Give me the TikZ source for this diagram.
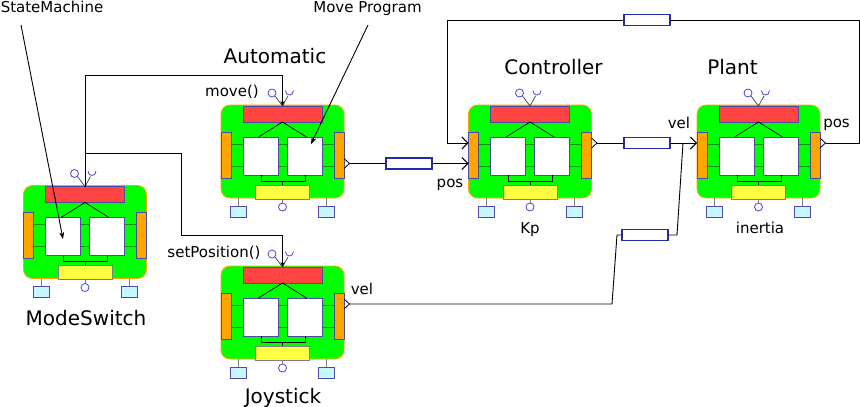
\documentclass[tikz,border=0pt]{standalone}
\usepackage{fontspec}
\setmainfont{DejaVu Sans}
\usetikzlibrary{arrows.meta,positioning}

\definecolor{bodygreen}{HTML}{00FF00}
\definecolor{bodyedge}{HTML}{FFA500}
\definecolor{portorange}{HTML}{FFA500}
\definecolor{partedge}{HTML}{4C4CA6}
\definecolor{barred}{HTML}{FF4444}
\definecolor{baryellow}{HTML}{FFFF44}
\definecolor{paramcyan}{HTML}{C6F6FF}
\definecolor{pinblue}{HTML}{4646C8}
\definecolor{wiregreen}{HTML}{0A8A0A}
\definecolor{resedge}{HTML}{2A2AA0}

\tikzset{
  box/.style={draw=partedge, line width=0.8pt, inner sep=0pt, outer sep=0pt},
  bar/.style={box, fill=barred, minimum width=79pt, minimum height=16pt},
  port/.style={box, fill=portorange, minimum width=10pt, minimum height=46pt},
  part/.style={box, fill=white, minimum width=35pt, minimum height=38pt},
  prop/.style={box, fill=baryellow, draw=gray, minimum width=54pt, minimum height=14pt},
  param/.style={box, fill=paramcyan, minimum width=16pt, minimum height=11pt},
  pin/.style={circle, draw=pinblue, line width=0.8pt, minimum size=8pt, inner sep=0pt},
  res/.style={draw=resedge, fill=white, line width=1.3pt, minimum width=46pt,
    minimum height=11pt, inner sep=0pt},
  sig/.style={line width=0.9pt},
  sigin/.style={-{Straight Barb[length=6pt,width=12pt]}},
  call/.style={-{Stealth[length=5pt,width=4pt]}},
  note/.style={line width=0.9pt, -{Stealth[length=7pt,width=5pt]}},
  title/.style={font=\fontsize{20}{24}\selectfont, inner sep=0pt, anchor=base},
  lbl/.style={font=\fontsize{15}{18}\selectfont, inner sep=0pt, anchor=base},
  pics/outport/.style={code={
    \draw[line width=0.8pt] (-5.5,-5) -- (0,0) -- (-5.5,5);
  }},
  pics/block/.style={code={
    % body and inner wiring
    \draw[fill=bodygreen, draw=bodyedge, line width=0.8pt, rounded corners=9pt]
      (-61.5,-46.5) rectangle (61.5,46.5);
    \draw[wiregreen, line width=0.8pt] (-51.5,-7.5) -- (51.5,-7.5) (-51.5,14.5) -- (51.5,14.5);
    \node[port] (-portL) at (-56.5,3.5) {};
    \node[port] (-portR) at (56.5,3.5) {};
    \node[bar] (-red) at (0,-37.5) {};
    \node[part] (-boxL) at (-22,4.5) {};
    \node[part] (-boxR) at (22,4.5) {};
    \draw[line width=0.7pt] (-24,-14.5) -- (-red.south) -- (24,-14.5);
    \draw[line width=0.8pt] (-21.5,23.5) |- (22.5,29.5) -- (22.5,23.5) (0,29.5) -- (0,33.5);
    % parameters
    \draw[gray, line width=0.8pt] (-44,46.5) -- (-44,54.5) (44,46.5) -- (44,54.5) (0,47.5) -- (0,51.5);
    \node[prop] (-prop) at (0,40.5) {};
    \node[param] (-parL) at (-44,60) {};
    \node[param] (-parR) at (44,60) {};
    \node[pin] (-pinB) at (0,55.5) {};
    % interfaces on top
    \node[pin] (-pinT) at (-10.5,-58.5) {};
    \draw[darkgray, line width=0.7pt] (-pinT.south east) -- (-red.north) -- (5.5,-55.5);
    \draw[pinblue, line width=0.8pt] (3,-61) .. controls (3,-55) and (11,-55) .. (11,-61);
    \coordinate (-in1) at (-61.5,-8.5);
    \coordinate (-in2) at (-61.5,12);
    \coordinate (-out1) at (67,-8.5);
    \coordinate (-out2) at (67,12);
  }},
}

\begin{document}
\begin{tikzpicture}[x=1pt,y=-1pt]
  \useasboundingbox (0,0) rectangle (860,407);

  % components
  \pic (mode) at (85,232) {block};
  \pic (auto) at (282.5,151.5) {block};
  \pic (joy) at (282.5,312.5) {block};
  \pic (ctrl) at (530,151.5) {block};
  \pic (plant) at (758.5,151.5) {block};
  \pic at (auto-out2) {outport};
  \pic at (joy-out1) {outport};
  \pic at (ctrl-out1) {outport};
  \pic at (plant-out1) {outport};

  % titles and labels
  \node[title] at (86,325) {ModeSwitch};
  \node[title] at (275,63) {Automatic};
  \node[title] at (283,403) {Joystick};
  \node[title] at (553.5,74) {Controller};
  \node[title] at (732.5,74) {Plant};
  \node[lbl] at (530,233) {Kp};
  \node[lbl] at (760,233) {inertia};
  \node[lbl] at (232,96) {move()};
  \node[lbl] at (214,257) {setPosition()};
  \node[lbl] at (450,187) {pos};
  \node[lbl] at (679,128) {vel};
  \node[lbl] at (836.5,127) {pos};
  \node[lbl] at (362,294) {vel};
  \node[lbl] (smLbl) at (52,12.5) {StateMachine};
  \node[lbl] (mpLbl) at (367.5,12.5) {Move Program};

  % couplings
  \node[res] (r1) at (409,163.5) {};
  \node[res] (r2) at (647,143) {};
  \node[res] (r3) at (645,235) {};
  \node[res] (fbres) at (647,20) {};
  \draw[sig] (auto-out2) -- (r1.west);
  \draw[sig,sigin] (r1.east) -- (ctrl-in2);
  \draw[sig] (ctrl-out1) -- (r2.west);
  \draw[sig,sigin] (r2.east) -- (plant-in1);

  \coordinate (fbR) at (859,20);
  \coordinate (fbL) at (447,20);
  \draw[sig] (plant-out1) -| (fbR) -- (fbres.east);
  \draw[sig,sigin] (fbres.west) -- (fbL) |- (ctrl-in1);

  \coordinate (j1) at (612,304);
  \coordinate (j2) at (617,235);
  \coordinate (j3) at (677,235);
  \coordinate (j4) at (683,143);
  \draw[sig] (joy-out1) -- (j1) -- (j2) -- (r3.west);
  \draw[sig] (r3.east) -- (j3) -- (j4);

  % mode switching calls
  \coordinate (msTop) at (85,75);
  \coordinate (msMid) at (85,153);
  \coordinate (msJ) at (181,235);
  \draw[sig,call] (mode-red.north) -- (msTop) -| (auto-red.north);
  \draw[sig,call] (msMid) -| (msJ) -| (joy-red.north);

  % annotations
  \coordinate (smTail) at (21,25);
  \coordinate (mpTail) at (368,25);
  \draw[note] (smTail) -- ([shift={(0,2.5)}]mode-boxL.center);
  \draw[note] (mpTail) -- ([shift={(6.5,-12)}]auto-boxR.center);
\end{tikzpicture}
\end{document}
